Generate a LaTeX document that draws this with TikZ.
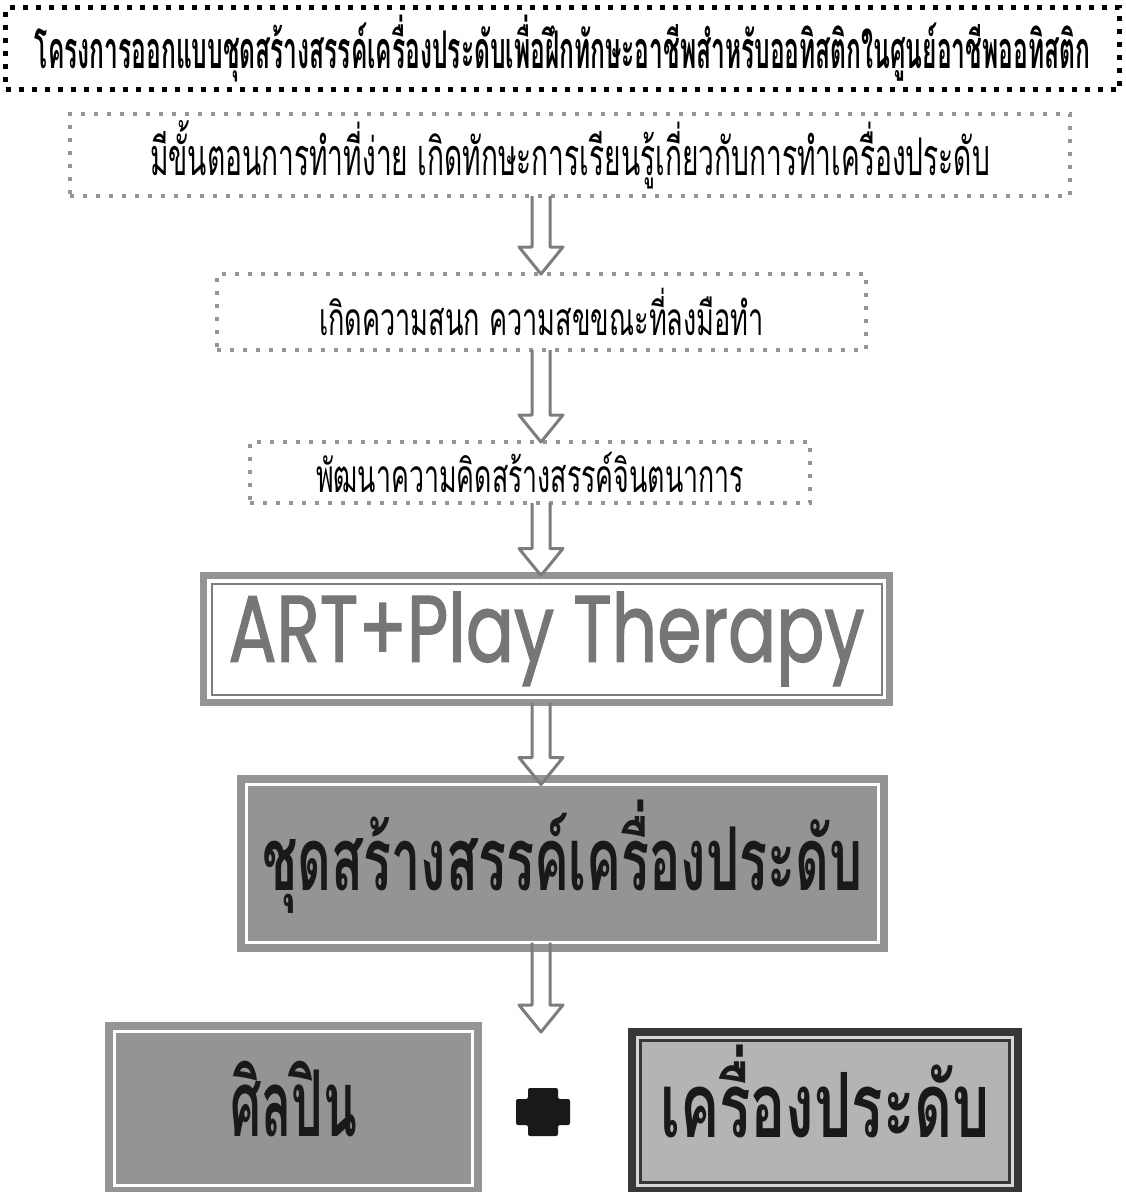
\documentclass[tikz,border=0pt]{standalone}
\usepackage{fontspec}
\usepackage{graphicx}
\usetikzlibrary{calc}
\newfontfamily\thaifont[Script=Thai]{Loma}
\newfontfamily\artfont[FakeBold=1.6]{Poppins}
\definecolor{dotgray}{RGB}{150,150,150}
\definecolor{arrowgray}{RGB}{125,125,125}
\definecolor{boxgray}{RGB}{148,148,148}
\definecolor{artgray}{RGB}{118,118,118}
\definecolor{darkframe}{RGB}{55,55,55}
\definecolor{lightfill}{RGB}{180,180,180}
\definecolor{lightband}{RGB}{215,215,215}
\definecolor{inkblack}{RGB}{25,25,25}
% fixed width, natural height
\newcommand\fitw[3]{\resizebox{#1}{\height}{\fontsize{#2}{#2}\selectfont #3}}
\tikzset{
  titlebox/.style={draw=black, line width=5pt, dash pattern=on 5pt off 8pt, inner sep=0pt, outer sep=0pt},
  stepbox/.style={draw=dotgray, line width=4pt, dash pattern=on 4pt off 9pt, inner sep=0pt, outer sep=0pt},
  artbox/.style={draw=boxgray, line width=7pt, fill=white, inner sep=0pt, outer sep=0pt},
  kitbox/.style={draw=boxgray, double=white, line width=8pt, double distance=3pt, fill=boxgray, inner sep=0pt, outer sep=0pt},
  jewelbox/.style={draw=darkframe, line width=8pt, fill=lightfill, inner sep=0pt, outer sep=0pt},
  flowarrow/.style={draw=arrowgray, line width=3pt, line join=round,
    to path={($(\tikztostart)+(-9,0)$) -- ($(\tikztotarget)+(-9,-27)$) -- ($(\tikztotarget)+(-22,-27)$)
      -- (\tikztotarget) -- ($(\tikztotarget)+(22,-27)$) -- ($(\tikztotarget)+(9,-27)$) -- ($(\tikztostart)+(9,0)$)}}
}
\begin{document}
\begin{tikzpicture}[x=1pt, y=-1pt]
  \useasboundingbox (0,0) rectangle (1126,1192);
  \coordinate (spine) at (541,0);
  \coordinate (plus) at (543,1112);

  \node[titlebox, minimum width=1114pt, minimum height=82pt] (title) at (562.5,48.5)
    {\fitw{1055pt}{52pt}{\thaifont\bfseries โครงการออกแบบชุดสร้างสรรค์เครื่องประดับเพื่อฝึกทักษะอาชีพสำหรับออทิสติกในศูนย์อาชีพออทิสติก}};
  \node[stepbox, minimum width=1000pt, minimum height=82pt] (step1) at (570,155)
    {\fitw{840pt}{52pt}{\thaifont มีขั้นตอนการทำที่ง่าย เกิดทักษะการเรียนรู้เกี่ยวกับการทำเครื่องประดับ}};
  \node[stepbox, minimum width=649pt, minimum height=76pt] (step2) at (541.5,312)
    {\fitw{445pt}{46pt}{\thaifont เกิดความสนก ความสขขณะที่ลงมือทำ}};
  \node[stepbox, minimum width=560pt, minimum height=61pt] (step3) at (530,472.5)
    {\fitw{428pt}{46pt}{\thaifont พัฒนาความคิดสร้างสรรค์จินตนาการ}};

  \node[artbox, minimum width=686pt, minimum height=127pt] (art) at (546.5,639)
    {\fitw{636pt}{94pt}{\artfont\color{artgray} ART+Play Therapy}};
  \draw[arrowgray, line width=2pt] ([shift={(8,8)}]art.north west) rectangle ([shift={(-8,-8)}]art.south east);

  \node[kitbox, minimum width=632pt, minimum height=158pt, text height=54pt, text depth=0pt] (kit) at (562.5,863.5)
    {\fitw{600pt}{88pt}{\thaifont\bfseries\color{inkblack} ชุดสร้างสรรค์เครื่องประดับ}};

  \node[kitbox, minimum width=358pt, minimum height=154pt, text height=56pt, text depth=0pt] (artist) at (293.5,1108.5)
    {\fitw{127pt}{92pt}{\thaifont\bfseries\color{inkblack} ศิลปิน}};
  \node[jewelbox, minimum width=386pt, minimum height=159pt, text height=52pt, text depth=0pt] (jewel) at (825,1111.5)
    {\fitw{330pt}{90pt}{\thaifont\bfseries\color{inkblack} เครื่องประดับ}};
  \draw[lightband, line width=3pt] ([shift={(5.5,5.5)}]jewel.north west) rectangle ([shift={(-5.5,-5.5)}]jewel.south east);
  \draw[darkframe, line width=3pt] ([shift={(8.5,8.5)}]jewel.north west) rectangle ([shift={(-8.5,-8.5)}]jewel.south east);

  \fill[inkblack, rounded corners=2pt] (plus) ++(-15,-24) -- ++(30,0) -- ++(0,11) -- ++(12,0) -- ++(0,26)
    -- ++(-12,0) -- ++(0,11) -- ++(-30,0) -- ++(0,-11) -- ++(-12,0) -- ++(0,-26) -- ++(12,0) -- cycle;

  \draw[flowarrow] (spine |- step1.south) to (spine |- step2.north);
  \draw[flowarrow] (spine |- step2.south) to (spine |- step3.north);
  \draw[flowarrow] (spine |- step3.south) to (spine |- art.north);
  \draw[flowarrow] (spine |- art.south) to (spine |- kit.north);
  \draw[flowarrow] (spine |- kit.south) to (spine |- jewel.north);
\end{tikzpicture}
\end{document}
